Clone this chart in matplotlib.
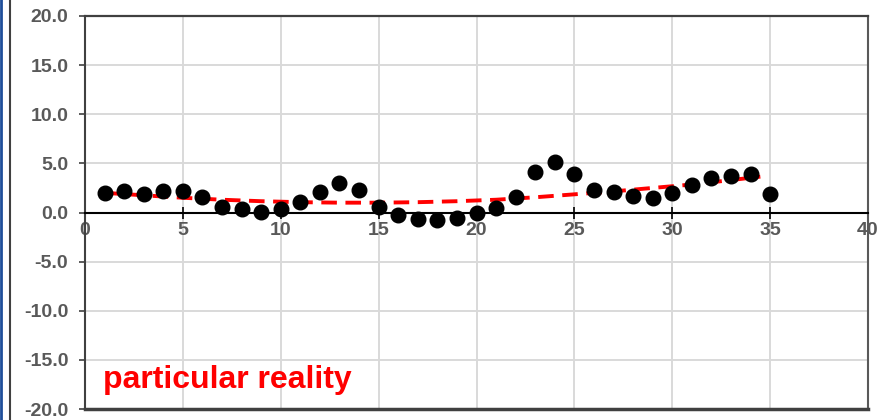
import matplotlib.pyplot as plt
from matplotlib.lines import Line2D

plt.rcParams['font.family'] = ['Liberation Sans', 'DejaVu Sans']

# data
x_vals = list(range(1, 36))
y_vals = [2.0, 2.15, 1.9, 2.2, 2.15, 1.55, 0.6, 0.35, 0.1, 0.35,
          1.05, 2.05, 3.0, 2.3, 0.6, -0.3, -0.7, -0.8, -0.6, 0.0,
          0.5, 1.6, 4.1, 5.1, 3.9, 2.3, 2.05, 1.7, 1.5, 1.95,
          2.8, 3.5, 3.75, 3.9, 1.9]
trend_x = [1, 3, 5, 7, 9, 11, 13, 15, 17, 19, 21, 23, 25, 27, 29, 31, 33, 34.5]
trend_y = [2.0, 1.75, 1.5, 1.3, 1.15, 1.05, 1.0, 1.0, 1.05, 1.15, 1.3,
           1.55, 1.85, 2.15, 2.5, 2.85, 3.3, 3.65]
x_ticks = [0, 5, 10, 15, 20, 25, 30, 35, 40]
y_ticks = [-20, -15, -10, -5, 0, 5, 10, 15, 20]
label = 'particular reality'

gray = '#595959'
fig = plt.figure(figsize=(8.9, 4.2), dpi=100)
ax = fig.add_axes([85 / 890, 1 - 409 / 420, 783 / 890, 393 / 420])

ax.set_xlim(0, 40)
ax.set_ylim(-20, 20)
ax.set_xticks(x_ticks)
ax.set_yticks(y_ticks)
ax.set_yticklabels([f'{v:.1f}' for v in y_ticks])
ax.grid(True, color='#d9d9d9', linewidth=1.4)
ax.set_axisbelow(True)

ax.spines['bottom'].set_position(('data', 0))
ax.spines['bottom'].set_color('black')
ax.spines['bottom'].set_linewidth(1.5)
ax.spines['left'].set_color('#404040')
ax.spines['left'].set_linewidth(1.5)
ax.spines['top'].set_color('#404040')
ax.spines['top'].set_linewidth(1.6)
ax.spines['right'].set_color(gray)
ax.spines['right'].set_linewidth(1.5)
ax.axhline(-20, color='#404040', linewidth=2.5, clip_on=False, zorder=5)

ax.tick_params(axis='x', direction='inout', length=9, width=1.2, color='black',
               pad=2, labelsize=14, labelcolor=gray)
ax.tick_params(axis='y', direction='out', length=4, width=1.2, color='#404040',
               pad=8, labelsize=14, labelcolor=gray)
for t in ax.get_xticklabels() + ax.get_yticklabels():
    t.set_fontweight('bold')

ax.plot(trend_x, trend_y, color='red', linewidth=2.8, dashes=(4, 2.2), zorder=3)
ax.plot(x_vals, y_vals, 'o', color='black', markersize=10.5, zorder=4)

ax.text(0.9, -17.9, label, color='red', fontsize=23, fontweight='bold', va='baseline')

fig.add_artist(Line2D([1 / 890, 1 / 890], [0, 1], color='#1f4e99', linewidth=2))
fig.add_artist(Line2D([9.5 / 890, 9.5 / 890], [0, 1], color='#404040', linewidth=1.5))

fig.savefig('out.png', dpi=100)
